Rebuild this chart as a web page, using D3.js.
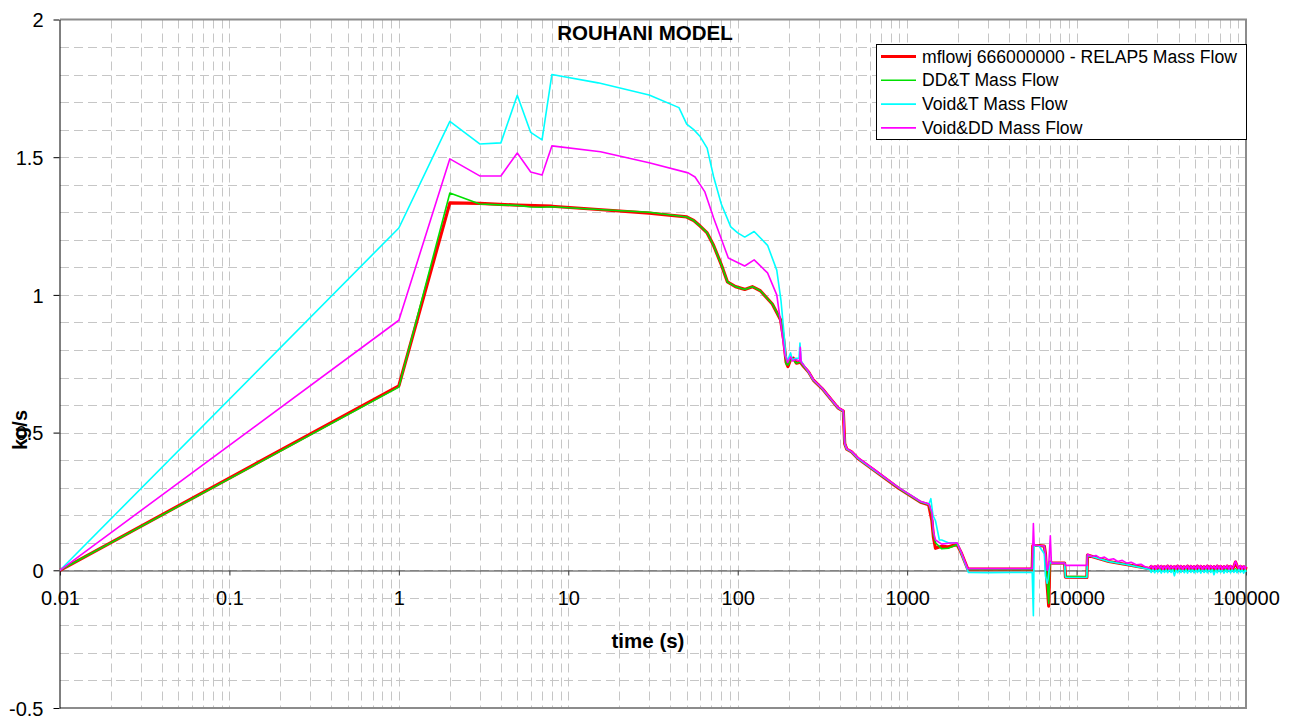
<!DOCTYPE html>
<html>
<head>
<meta charset="utf-8">
<script src="https://cdn.jsdelivr.net/npm/d3@7"></script>
<style>
  body { margin: 0; background: #fff; }
  svg { font-family: Arial, "Liberation Sans", sans-serif; }
</style>
</head>
<body>
<div id="chart"></div>
<script>
// ---- data (time in s, mass flow in kg/s) ----
var seriesNames = ["mflowj 666000000 - RELAP5 Mass Flow", "DD&T Mass Flow", "Void&T Mass Flow", "Void&DD Mass Flow"];
var seriesColors = ["#ff0000", "#00e000", "#00ffff", "#ff00ff"];

var redTime = [0.01, 1, 2, 3, 5, 8, 15, 30, 50, 55, 60, 66, 72, 80, 87, 97, 110, 122, 136, 160, 179, 187, 193, 198, 205, 213, 222, 234, 245, 262, 280, 315, 390, 420, 428, 440, 470, 510, 640, 890, 1200, 1340, 1400, 1430, 1470, 1600, 1750, 1970, 2080, 2280, 3000, 4000, 5470, 5520, 6000, 6450, 6550, 6700, 6850, 6950, 7200, 8500, 8600, 11500, 11600, 15500, 20000];
var redFlow = [0, 0.67, 1.334, 1.332, 1.326, 1.322, 1.31, 1.297, 1.283, 1.27, 1.25, 1.225, 1.18, 1.11, 1.047, 1.03, 1.02, 1.03, 1.015, 0.967, 0.91, 0.835, 0.756, 0.74, 0.765, 0.77, 0.752, 0.756, 0.74, 0.72, 0.69, 0.66, 0.59, 0.578, 0.46, 0.44, 0.43, 0.407, 0.363, 0.298, 0.247, 0.238, 0.18, 0.12, 0.08, 0.087, 0.085, 0.094, 0.065, 0.004, 0.004, 0.004, 0.004, 0.09, 0.09, 0.088, 0.06, -0.05, -0.13, 0.03, 0.026, 0.026, -0.025, -0.026, 0.055, 0.032, 0.02];

var greenTime = [0.01, 1, 2, 3, 4, 5, 6, 7, 8, 15, 30, 50, 55, 60, 66, 72, 80, 87, 97, 110, 122, 136, 160, 179, 187, 193, 198, 205, 213, 222, 234, 245, 262, 280, 315, 390, 420, 428, 440, 470, 510, 640, 890, 1200, 1340, 1400, 1430, 1470, 1600, 1750, 1970, 2080, 2280, 3000, 4000, 5470, 5520, 6000, 6450, 6550, 6700, 6850, 6950, 7200, 8500, 8600, 11500, 11600, 15500, 20000];
var greenFlow = [0, 0.665, 1.37, 1.33, 1.327, 1.325, 1.319, 1.318, 1.32, 1.31, 1.3, 1.283, 1.27, 1.25, 1.225, 1.18, 1.11, 1.047, 1.03, 1.02, 1.03, 1.015, 0.967, 0.91, 0.835, 0.75, 0.745, 0.765, 0.765, 0.752, 0.756, 0.74, 0.72, 0.69, 0.66, 0.59, 0.578, 0.46, 0.44, 0.43, 0.407, 0.363, 0.298, 0.247, 0.24, 0.2, 0.13, 0.1, 0.078, 0.08, 0.094, 0.065, 0.003, 0.003, 0.003, 0.003, 0.09, 0.09, 0.088, 0.06, -0.04, -0.12, 0.03, 0.026, 0.026, -0.022, -0.024, 0.055, 0.032, 0.02];

var cyanTime = [0.01, 1, 2, 3, 4, 5, 6, 7, 8, 15, 30, 45, 50, 55, 60, 66, 72, 80, 91, 100, 110, 125, 150, 170, 180, 187, 192, 197, 205, 210, 220, 230, 233, 237, 245, 262, 280, 315, 390, 420, 428, 440, 470, 510, 640, 890, 1200, 1340, 1380, 1420, 1470, 1550, 1600, 1750, 1970, 2080, 2300, 3000, 4000, 5470, 5560, 5620, 5680, 6000, 6450, 6550, 6700, 6800, 6950, 7200, 8500, 8600, 11500, 11600, 15500, 20000];
var cyanFlow = [0, 1.243, 1.63, 1.548, 1.552, 1.725, 1.59, 1.563, 1.8, 1.77, 1.726, 1.68, 1.62, 1.6, 1.575, 1.533, 1.43, 1.33, 1.247, 1.225, 1.21, 1.23, 1.18, 1.09, 0.98, 0.87, 0.78, 0.76, 0.79, 0.765, 0.77, 0.77, 0.825, 0.76, 0.745, 0.72, 0.69, 0.66, 0.59, 0.578, 0.46, 0.44, 0.43, 0.407, 0.363, 0.3, 0.25, 0.24, 0.26, 0.2, 0.18, 0.11, 0.11, 0.1, 0.1, 0.065, -0.008, -0.009, -0.008, -0.008, -0.165, 0.09, 0.09, 0.088, 0.06, -0.02, -0.047, -0.03, 0.03, 0.025, 0.025, -0.025, -0.026, 0.055, 0.032, 0.02];

var magentaTime = [0.01, 1, 2, 3, 4, 5, 6, 7, 8, 15.5, 30, 51, 56, 64, 72, 88, 110, 125, 150, 170, 180, 190, 197, 205, 210, 220, 232, 234, 237, 245, 262, 280, 315, 390, 420, 428, 440, 470, 510, 640, 890, 1200, 1340, 1400, 1430, 1470, 1600, 1750, 1970, 2080, 2280, 3000, 4000, 5470, 5560, 5620, 5680, 6000, 6450, 6550, 6700, 6850, 7000, 7100, 7200, 8500, 8600, 11500, 11600, 12300, 13000, 13800, 14600, 15500, 16500, 17500, 18600, 19800, 21000, 22500, 24000, 25500];
var magentaFlow = [0, 0.908, 1.494, 1.432, 1.432, 1.515, 1.446, 1.435, 1.541, 1.52, 1.48, 1.443, 1.428, 1.374, 1.28, 1.134, 1.105, 1.127, 1.08, 1.0, 0.89, 0.78, 0.755, 0.775, 0.76, 0.765, 0.76, 0.81, 0.755, 0.745, 0.722, 0.692, 0.662, 0.592, 0.58, 0.462, 0.442, 0.432, 0.41, 0.366, 0.3, 0.25, 0.242, 0.21, 0.14, 0.11, 0.095, 0.098, 0.1, 0.068, 0.006, 0.006, 0.006, 0.006, 0.17, 0.09, 0.092, 0.09, 0.088, 0.06, 0.0, 0.02, 0.125, 0.03, 0.026, 0.026, 0.018, 0.018, 0.058, 0.05, 0.054, 0.044, 0.048, 0.038, 0.042, 0.032, 0.036, 0.026, 0.029, 0.02, 0.022, 0.012];

// noisy tail after ~27000 s
var tailTime = [
  27000, 27600, 28200, 28900, 29500, 30200, 30900, 31600, 32300, 33000,
  33800, 34500, 35300, 36100, 36900, 37800, 38600, 39500, 40400, 41300,
  42300, 43200, 44200, 45200, 46200, 47300, 48300, 49400, 50600, 51700,
  52900, 54100, 55300, 56600, 57900, 59200, 60500, 61900, 63300, 64700,
  66200, 67700, 69200, 70800, 72400, 74100, 75700, 77500, 79200, 81000,
  82900, 84700, 86700, 88600, 90600, 92700, 94800, 96900, 99100, 100000];
var redTail = [
  0.006, 0.014, 0.002, 0.013, 0.001, 0.015, 0.003, 0.014, 0.0, 0.013,
  0.002, 0.015, 0.001, 0.014, 0.003, 0.013, 0.001, 0.015, 0.002, 0.014,
  0.0, 0.013, 0.003, 0.015, 0.001, 0.014, 0.002, 0.013, 0.001, 0.015,
  0.003, 0.014, 0.0, 0.013, 0.002, 0.015, 0.001, 0.014, 0.003, 0.013,
  0.001, 0.015, 0.002, 0.014, 0.0, 0.013, 0.003, 0.015, 0.001, 0.014,
  0.002, 0.013, 0.03, 0.015, 0.003, 0.014, 0.001, 0.013, 0.002, 0.012];
var greenTail = [
  0.004, -0.004, 0.006, -0.005, 0.005, -0.003, 0.006, -0.005, 0.004, -0.004,
  0.005, -0.005, 0.006, -0.004, 0.004, -0.003, 0.005, -0.005, 0.006, -0.004,
  0.004, -0.005, 0.005, -0.004, 0.006, -0.003, 0.004, -0.005, 0.005, -0.004,
  0.006, -0.004, 0.004, -0.005, 0.005, -0.003, 0.006, -0.004, 0.004, -0.005,
  0.005, -0.004, 0.006, -0.005, 0.004, -0.003, 0.005, -0.004, 0.006, -0.005,
  0.004, -0.004, 0.005, -0.003, 0.006, -0.005, 0.004, -0.004, 0.005, -0.003];
var cyanTail = [
  0.003, -0.008, 0.004, -0.009, 0.002, -0.007, 0.004, -0.01, 0.003, -0.008,
  0.002, -0.009, 0.004, -0.008, 0.003, -0.02, 0.002, -0.009, 0.004, -0.008,
  0.003, -0.009, 0.002, -0.01, 0.004, -0.008, 0.003, -0.009, 0.002, -0.008,
  0.004, -0.01, 0.003, -0.008, 0.002, -0.009, 0.004, -0.008, 0.003, -0.016,
  0.002, -0.009, 0.004, -0.008, 0.003, -0.01, 0.002, -0.008, 0.004, -0.009,
  0.003, -0.008, 0.002, -0.009, 0.004, -0.008, 0.003, -0.01, 0.002, -0.006];
var magentaTail = [
  0.008, 0.017, 0.005, 0.016, 0.004, 0.018, 0.006, 0.017, 0.003, 0.016,
  0.005, 0.018, 0.004, 0.017, 0.006, 0.016, 0.004, 0.018, 0.005, 0.017,
  0.003, 0.016, 0.006, 0.018, 0.004, 0.017, 0.005, 0.016, 0.004, 0.018,
  0.006, 0.017, 0.003, 0.016, 0.005, 0.018, 0.004, 0.017, 0.006, 0.016,
  0.004, 0.018, 0.005, 0.017, 0.003, 0.016, 0.006, 0.018, 0.004, 0.017,
  0.005, 0.016, 0.033, 0.018, 0.006, 0.017, 0.004, 0.016, 0.005, 0.015];

var xTicks = [0.01, 0.1, 1, 10, 100, 1000, 10000, 100000];
var yTicks = [-0.5, 0, 0.5, 1, 1.5, 2];

// ---- layout ----
var svgWidth = 1295, svgHeight = 717;
var plotLeft = 60, plotRight = 1246, plotTop = 19.5, plotBottom = 708;

var svg = d3.select("#chart").append("svg")
  .attr("width", svgWidth)
  .attr("height", svgHeight);

var x = d3.scaleLog().domain([0.01, 100000]).range([plotLeft, plotRight]);
var y = d3.scaleLinear().domain([-0.5, 2]).range([plotBottom, plotTop]);

// minor gridlines (dashed)
var xGrid = [];
for (var dec = -2; dec < 5; dec++) {
  for (var m = 1; m <= 9; m++) xGrid.push(m * Math.pow(10, dec));
}
var yGrid = d3.range(-4, 20).map(d => d / 10);

var grid = svg.append("g").attr("stroke", "#c6c6c6").attr("stroke-width", 1).attr("stroke-dasharray", "9,5");
grid.selectAll(".vg").data(xGrid.filter(d => d > 0.0101)).enter().append("line")
  .attr("x1", d => Math.round(x(d)) + 0.5).attr("x2", d => Math.round(x(d)) + 0.5)
  .attr("y1", plotTop).attr("y2", plotBottom);
grid.selectAll(".hg").data(yGrid).enter().append("line")
  .attr("x1", plotLeft).attr("x2", plotRight)
  .attr("y1", d => Math.round(y(d)) + 0.5).attr("y2", d => Math.round(y(d)) + 0.5);

// plot border (top / right / bottom)
svg.append("path")
  .attr("d", `M${plotLeft},${plotTop}H${plotRight}V${plotBottom}H${plotLeft}`)
  .attr("fill", "none").attr("stroke", "#8c8c8c").attr("stroke-width", 2);

// x axis along y = 0
var xAxis = svg.append("g")
  .attr("transform", `translate(0, ${Math.round(y(0)) + 0.5})`)
  .call(d3.axisBottom(x).tickValues(xTicks).tickSize(5).tickSizeOuter(0).tickFormat(d => String(d)));
xAxis.select(".domain").attr("stroke", "#404040");
xAxis.selectAll(".tick line").attr("stroke", "#404040");
xAxis.selectAll("text").attr("y", 34).attr("dy", 0)
  .attr("font-size", 20).attr("fill", "#000").attr("font-family", "Arial, 'Liberation Sans', sans-serif");

// y axis
var yAxis = svg.append("g")
  .attr("transform", `translate(${plotLeft - 0.5}, 0)`)
  .call(d3.axisLeft(y).tickValues(yTicks).tickSize(6).tickSizeOuter(0).tickFormat(d => String(d)));
yAxis.select(".domain").attr("stroke", "#000");
yAxis.selectAll(".tick line").attr("stroke", "#000");
yAxis.selectAll("text").attr("x", -16).attr("dy", "0.36em")
  .attr("font-size", 20).attr("fill", "#000").attr("font-family", "Arial, 'Liberation Sans', sans-serif");

// lines
var line = d3.line().x(d => x(d[0])).y(d => y(d[1]));
function pairs(t, v) { return t.map((d, i) => [d, v[i]]); }

var series = [
  pairs(redTime.concat(tailTime), redFlow.concat(redTail)),
  pairs(greenTime.concat(tailTime), greenFlow.concat(greenTail)),
  pairs(cyanTime.concat(tailTime), cyanFlow.concat(cyanTail)),
  pairs(magentaTime.concat(tailTime), magentaFlow.concat(magentaTail))
];
var widths = [3.2, 1.6, 1.6, 1.6];

svg.append("g").selectAll("path").data(series).enter().append("path")
  .attr("d", line)
  .attr("fill", "none")
  .attr("stroke", (d, i) => seriesColors[i])
  .attr("stroke-width", (d, i) => widths[i])
  .attr("stroke-linejoin", "round");

// title and axis labels
svg.append("text").attr("x", 645).attr("y", 40).attr("text-anchor", "middle")
  .attr("font-size", 20.5).attr("font-weight", "bold").text("ROUHANI MODEL");
svg.append("text").attr("x", 648).attr("y", 648).attr("text-anchor", "middle")
  .attr("font-size", 20.5).attr("font-weight", "bold").text("time (s)");
svg.append("text").attr("transform", "translate(27, 430) rotate(-90)").attr("text-anchor", "middle")
  .attr("font-size", 20).attr("font-weight", "bold").text("kg/s");

// legend
var legend = svg.append("g").attr("transform", "translate(876, 44)");
legend.append("rect").attr("x", 0.5).attr("y", 0.5).attr("width", 370).attr("height", 95)
  .attr("fill", "#fff").attr("stroke", "#000").attr("stroke-width", 1);
var rows = legend.selectAll(".row").data(seriesNames).enter().append("g")
  .attr("transform", (d, i) => `translate(0, ${12.5 + i * 23.8})`);
rows.append("line").attr("x1", 5).attr("x2", 40).attr("y1", 0).attr("y2", 0)
  .attr("stroke", (d, i) => seriesColors[i]).attr("stroke-width", (d, i) => widths[i]);
rows.append("text").attr("x", 46).attr("y", 0).attr("dy", "0.35em")
  .attr("font-size", 17.6).text(d => d);
</script>
</body>
</html>
